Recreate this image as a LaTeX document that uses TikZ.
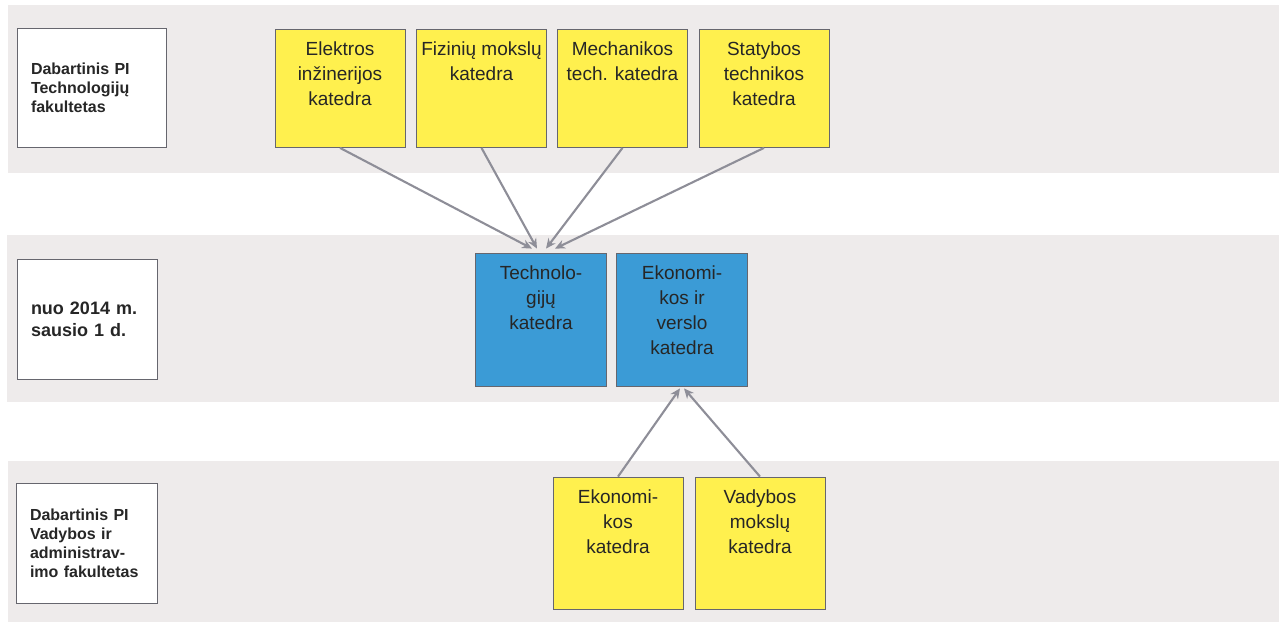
\documentclass[tikz,border=0pt]{standalone}
\usepackage{fontspec}
\setmainfont{Liberation Sans}
\usetikzlibrary{arrows.meta}
\definecolor{bandc}{HTML}{EEEBEB}
\definecolor{yel}{HTML}{FFF04E}
\definecolor{blu}{HTML}{3B9BD6}
\definecolor{edgec}{HTML}{66666E}
\definecolor{arrc}{HTML}{8E8E98}
\definecolor{txtc}{HTML}{262626}
\newcommand{\boxtext}[3]{\parbox[t][#2][t]{#1}{\centering\fontsize{19}{25}\selectfont\rule{0pt}{26pt}#3}}
\tikzset{
  band/.style={fill=bandc, draw=none},
  unitbox/.style={draw=edgec, line width=0.8pt, inner sep=0pt, text=txtc},
  ybox/.style={unitbox, fill=yel},
  bbox/.style={unitbox, fill=blu},
  lbox/.style={draw=edgec, line width=0.8pt, fill=white, inner xsep=14pt, inner ysep=0pt, align=left, text=txtc, font=\fontsize{16}{19}\selectfont\bfseries},
  conn/.style={draw=arrc, line width=2.1pt, -{Stealth[length=10pt,width=9pt]}}
}
\begin{document}
\begin{tikzpicture}[x=1pt,y=-1pt]
\useasboundingbox[fill=white] (0,0) rectangle (1284,626);
% bands
\path[band] (8,5) rectangle (1279,173);
\path[band] (7,235) rectangle (1279,402);
\path[band] (8,461) rectangle (1279,622);
% left labels
\node[lbox, minimum width=149pt, minimum height=119pt, text width=121pt] (l1) at (91.5,87.5) {Dabartinis PI\\Technologijų\\fakultetas};
\node[lbox, minimum width=140pt, minimum height=120pt, text width=112pt, font=\fontsize{18}{22}\selectfont\bfseries] (l2) at (87,319) {nuo 2014 m.\\sausio 1 d.};
\node[lbox, minimum width=141pt, minimum height=120pt, text width=113pt] (l3) at (86.5,543) {Dabartinis PI\\Vadybos ir\\administrav-\\imo fakultetas};
% top row
\node[ybox] (elek) at (340,88.5) {\boxtext{130pt}{118pt}{Elektros\\inžinerijos\\katedra}};
\node[ybox] (fiz) at (481.5,88.5) {\boxtext{130pt}{118pt}{Fizinių mokslų\\katedra}};
\node[ybox] (mech) at (622.5,88.5) {\boxtext{130pt}{118pt}{Mechanikos\\tech. katedra}};
\node[ybox] (stat) at (764,88.5) {\boxtext{130pt}{118pt}{Statybos\\technikos\\katedra}};
% middle row
\node[bbox] (tech) at (541,319.5) {\boxtext{131pt}{133pt}{Technolo-\\gijų\\katedra}};
\node[bbox] (ekv) at (682,319.5) {\boxtext{131pt}{133pt}{Ekonomi-\\kos ir\\verslo\\katedra}};
% bottom row
\node[ybox] (ekon) at (618,543) {\boxtext{130pt}{132pt}{Ekonomi-\\kos\\katedra}};
\node[ybox] (vad) at (760,543) {\boxtext{130pt}{132pt}{Vadybos\\mokslų\\katedra}};
% connectors
\draw[conn] (elek.south) -- ([xshift=-9pt,yshift=4pt]tech.north);
\draw[conn] (fiz.south) -- ([xshift=-4pt,yshift=4pt]tech.north);
\draw[conn] (mech.south) -- ([xshift=5pt,yshift=4pt]tech.north);
\draw[conn] (stat.south) -- ([xshift=14pt,yshift=4pt]tech.north);
\draw[conn] (ekon.north) -- ([xshift=-2pt,yshift=-2pt]ekv.south);
\draw[conn] (vad.north) -- ([xshift=2pt,yshift=-2pt]ekv.south);
\end{tikzpicture}
\end{document}
